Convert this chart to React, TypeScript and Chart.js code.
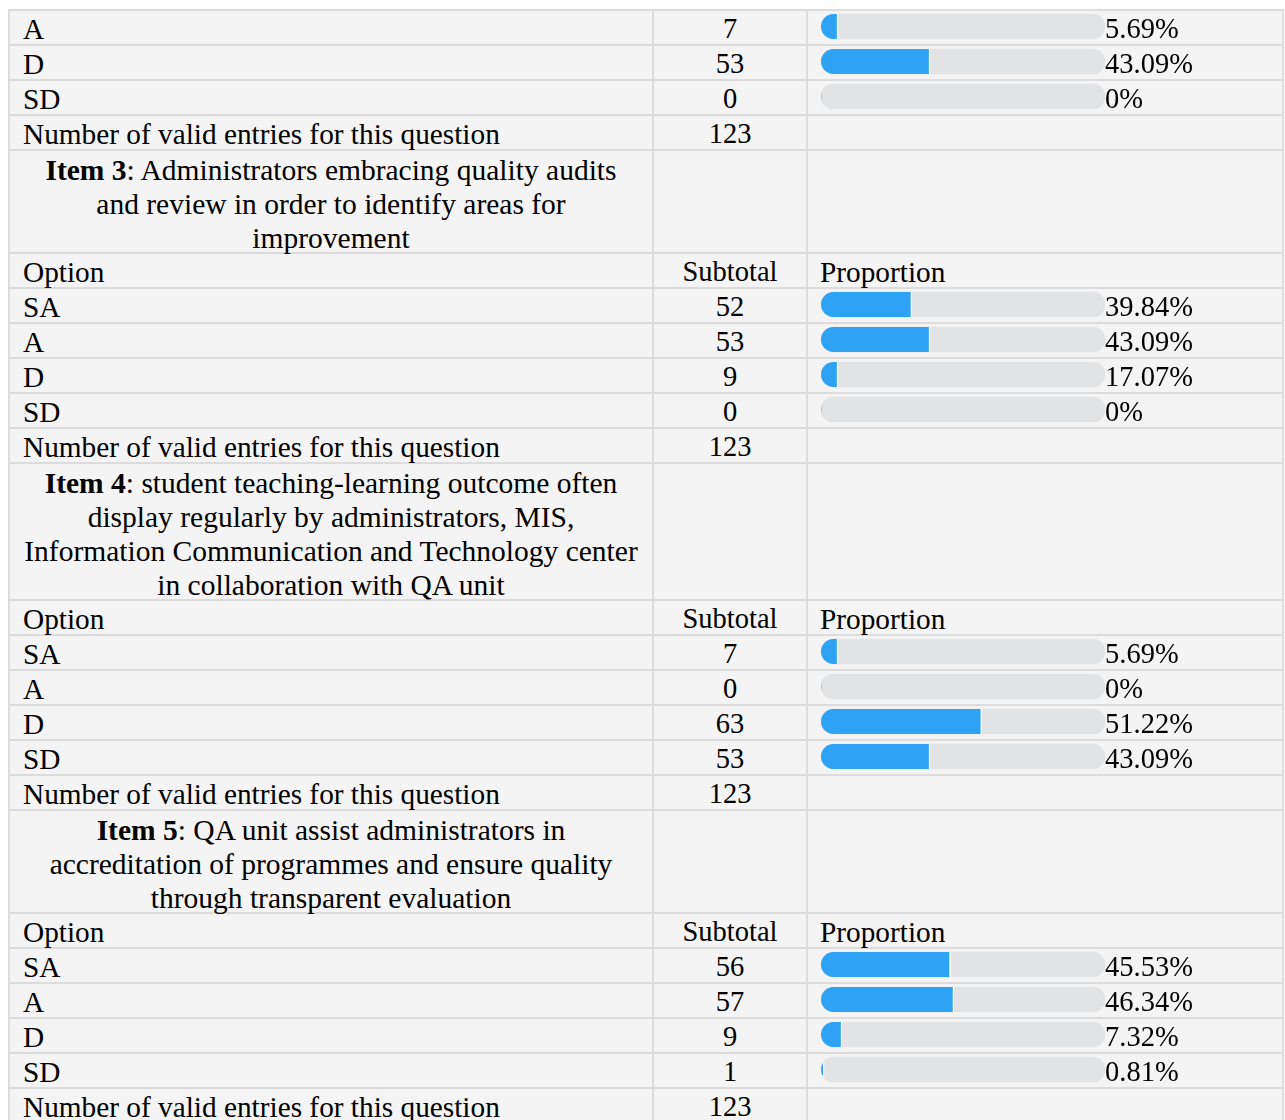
import React, { useEffect, useRef } from "react";
import { Chart, registerables } from "chart.js";

Chart.register(...registerables);

// ---------- data ----------
const headerLabels = ["Option", "Subtotal", "Proportion"];
const totalLabel = "Number of valid entries for this question";
const validEntries = 123;

const optionLabels = ["SA", "A", "D", "SD"];

// Item 2 (only the tail of the block is visible)
const item2Options = ["A", "D", "SD"];
const item2Subtotals = [7, 53, 0];
const item2Labels = ["5.69%", "43.09%", "0%"];
const item2Bars = [6.0, 38.4, 0];

// Item 3
const item3Title = [
  "Administrators embracing quality audits",
  "and review in order to identify areas for",
  "improvement",
];
const item3Subtotals = [52, 53, 9, 0];
const item3Labels = ["39.84%", "43.09%", "17.07%", "0%"];
const item3Bars = [32.0, 38.4, 6.0, 0];

// Item 4
const item4Title = [
  "student teaching-learning outcome often",
  "display regularly by administrators, MIS,",
  "Information Communication and Technology center",
  "in collaboration with QA unit",
];
const item4Subtotals = [7, 0, 63, 53];
const item4Labels = ["5.69%", "0%", "51.22%", "43.09%"];
const item4Bars = [6.0, 0, 56.6, 38.4];

// Item 5
const item5Title = [
  "QA unit assist administrators in",
  "accreditation of programmes and ensure quality",
  "through transparent evaluation",
];
const item5Subtotals = [56, 57, 9, 1];
const item5Labels = ["45.53%", "46.34%", "7.32%", "0.81%"];
const item5Bars = [45.6, 46.8, 7.4, 1.1];

// ---------- styles ----------
const TRACK = "#e2e3e5";
const BLUE = "#2ea3f6";
const CELL_BG = "#f4f4f4";
const LINE = "#dcdcdc";
const FONT = "'Liberation Serif', 'Times New Roman', serif";

type Row =
  | { kind: "bar"; option: string; subtotal: number; label: string; value: number }
  | { kind: "header" }
  | { kind: "total" }
  | { kind: "item"; num: number; lines: string[] };

function buildRows(): Row[] {
  const rows: Row[] = [];
  item2Options.forEach((o, i) =>
    rows.push({ kind: "bar", option: o, subtotal: item2Subtotals[i], label: item2Labels[i], value: item2Bars[i] })
  );
  rows.push({ kind: "total" });
  const blocks = [
    { num: 3, title: item3Title, subs: item3Subtotals, labels: item3Labels, bars: item3Bars },
    { num: 4, title: item4Title, subs: item4Subtotals, labels: item4Labels, bars: item4Bars },
    { num: 5, title: item5Title, subs: item5Subtotals, labels: item5Labels, bars: item5Bars },
  ];
  blocks.forEach((b) => {
    rows.push({ kind: "item", num: b.num, lines: b.title });
    rows.push({ kind: "header" });
    optionLabels.forEach((o, i) =>
      rows.push({ kind: "bar", option: o, subtotal: b.subs[i], label: b.labels[i], value: b.bars[i] })
    );
    rows.push({ kind: "total" });
  });
  return rows;
}

const clipPlugin = {
  id: "trackClip",
  beforeDatasetDraw(chart: any, args: any) {
    if (args.index !== 1) return;
    const track = chart.getDatasetMeta(0).data[0];
    if (!track) return;
    const p = track.getProps(["x", "y", "base", "height"], true);
    const ctx = chart.ctx;
    ctx.save();
    ctx.beginPath();
    const left = Math.min(p.x, p.base);
    const w = Math.abs(p.x - p.base);
    (ctx as any).roundRect(left, p.y - p.height / 2, w, p.height, p.height / 2);
    ctx.clip();
  },
  afterDatasetDraw(chart: any, args: any) {
    if (args.index !== 1) return;
    chart.ctx.restore();
  },
};

function BarCanvas({ value, width, height }: { value: number; width: number; height: number }) {
  const ref = useRef<HTMLCanvasElement | null>(null);
  useEffect(() => {
    if (!ref.current) return;
    const chart = new Chart(ref.current, {
      type: "bar",
      data: {
        labels: [""],
        datasets: [
          {
            data: [100],
            backgroundColor: TRACK,
            borderRadius: 12.5,
            borderSkipped: false,
            grouped: false,
            order: 2,
            barThickness: 25,
          } as any,
          {
            data: [value],
            backgroundColor: BLUE,
            borderColor: "#ffffff",
            borderWidth: value > 0 ? { left: 0, top: 0, bottom: 0, right: 1.5 } : 0,
            borderSkipped: false,
            borderRadius: 0,
            grouped: false,
            order: 1,
            barThickness: 25,
          } as any,
        ],
      },
      options: {
        indexAxis: "y",
        responsive: false,
        animation: false,
        events: [],
        layout: { padding: { left: 13, right: 177, top: 0, bottom: 2 } },
        scales: {
          x: { display: false, min: 0, max: 100 },
          y: { display: false },
        },
        plugins: { legend: { display: false }, tooltip: { enabled: false } },
      } as any,
      plugins: [clipPlugin as any],
    });
    return () => chart.destroy();
  }, [value, width, height]);
  return <canvas ref={ref} width={width} height={height} style={{ display: "block", width, height }} />;
}

const TABLE_LEFT = 8;
const TABLE_TOP = 9;
const LW = 2;
// column line positions relative to table left
const COL_LINES = [0, 644, 798, 1274];
const TABLE_W = 1276;

function rowPitch(r: Row): number {
  if (r.kind === "item") return r.lines.length * 34 + 1;
  return 35;
}

export default function App() {
  useEffect(() => {
    document.body.style.overflow = "hidden";
    document.documentElement.style.overflow = "hidden";
  }, []);

  const rows = buildRows();
  let y = 0;
  const laid = rows.map((r) => {
    const top = y;
    const pitch = rowPitch(r);
    y += pitch;
    return { r, top, pitch };
  });

  const textStyle: React.CSSProperties = {
    position: "absolute",
    fontFamily: FONT,
    fontSize: "28.5px",
    lineHeight: "34px",
    color: "#000",
    whiteSpace: "nowrap",
  };
  const wordStyle: React.CSSProperties = { ...textStyle, fontSize: "29.3px" };

  const col = (i: number) => ({ left: COL_LINES[i] + LW, width: COL_LINES[i + 1] - COL_LINES[i] - LW });

  return (
    <div style={{ position: "fixed", left: 0, top: 0, width: 1285, height: 1120, background: "#fff", overflow: "hidden" }}>
      <div
        style={{
          position: "absolute",
          left: TABLE_LEFT,
          top: TABLE_TOP,
          width: TABLE_W,
          height: y + LW,
          background: LINE,
        }}
      >
        {laid.map(({ r, top, pitch }, idx) => {
          const cellTop = top + LW;
          const cellH = pitch - LW;
          const cells = [0, 1, 2].map((c) => (
            <div
              key={"bg" + c}
              style={{ position: "absolute", top: cellTop, height: cellH, ...col(c), background: CELL_BG, overflow: "hidden" }}
            />
          ));
          const content: React.ReactNode[] = [];
          const c1 = col(0), c2 = col(1), c3 = col(2);
          if (r.kind === "bar" || r.kind === "header" || r.kind === "total") {
            const first = r.kind === "bar" ? r.option : r.kind === "header" ? headerLabels[0] : totalLabel;
            const second = r.kind === "bar" ? String(r.subtotal) : r.kind === "header" ? headerLabels[1] : String(validEntries);
            content.push(
              <div key="t1" style={{ ...wordStyle, top: cellTop + 1, left: c1.left + 13 }}>{first}</div>
            );
            content.push(
              <div key="t2" style={{ ...textStyle, top: cellTop + 1, left: c2.left, width: c2.width, textAlign: "center" }}>{second}</div>
            );
            if (r.kind === "header") {
              content.push(
                <div key="t3" style={{ ...wordStyle, top: cellTop + 1, left: c3.left + 12 }}>{headerLabels[2]}</div>
              );
            }
            if (r.kind === "bar") {
              content.push(
                <div key="cv" style={{ position: "absolute", top: cellTop, left: c3.left, width: c3.width, height: cellH }}>
                  <BarCanvas value={r.value} width={c3.width} height={cellH} />
                </div>
              );
              content.push(
                <div key="lb" style={{ ...textStyle, top: cellTop + 1, left: c3.left + 297 }}>{r.label}</div>
              );
            }
          } else if (r.kind === "item") {
            content.push(
              <div key="it" style={{ ...textStyle, fontSize: "29.5px", top: cellTop + 2, left: c1.left, width: c1.width, textAlign: "center" }}>
                {r.lines.map((ln, i) => (
                  <div key={i}>
                    {i === 0 ? (
                      <>
                        <b>Item {r.num}</b>: {ln}
                      </>
                    ) : (
                      ln
                    )}
                  </div>
                ))}
              </div>
            );
          }
          return (
            <React.Fragment key={idx}>
              {cells}
              {content}
            </React.Fragment>
          );
        })}
      </div>
    </div>
  );
}
